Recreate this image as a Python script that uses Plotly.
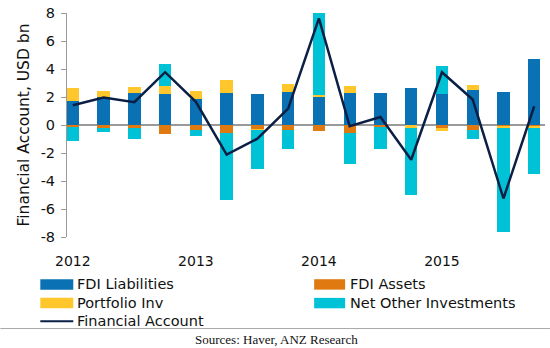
import plotly.graph_objects as go

# Quarterly financial account breakdown, USD bn
quarters = ["2012Q1", "2012Q2", "2012Q3", "2012Q4",
            "2013Q1", "2013Q2", "2013Q3", "2013Q4",
            "2014Q1", "2014Q2", "2014Q3", "2014Q4",
            "2015Q1", "2015Q2", "2015Q3", "2015Q4"]
fdi_liabilities = [1.72, 2.00, 2.29, 2.22, 1.89, 2.29, 2.25, 2.36,
                   2.06, 2.29, 2.27, 2.61, 2.22, 2.53, 2.34, 4.75]
fdi_assets = [-0.12, -0.19, -0.21, -0.62, -0.38, -0.55, -0.29, -0.38,
              -0.43, -0.57, -0.14, -0.07, -0.21, -0.38, -0.10, -0.10]
portfolio_inv = [0.89, 0.44, 0.39, 0.58, 0.57, 0.91, -0.05, 0.60,
                 0.05, 0.48, 0.00, -0.14, -0.21, 0.34, -0.10, -0.10]
net_other_inv = [-1.05, -0.33, -0.81, 1.55, -0.38, -4.80, -2.81, -1.34,
                 5.94, -2.25, -1.60, -4.78, 1.98, -0.64, -7.46, -3.31]
financial_account = [1.41, 1.96, 1.63, 3.77, 1.65, -2.12, -0.98, 1.17,
                     7.62, -0.09, 0.57, -2.48, 3.77, 1.82, -5.25, 1.34]
years = ["2012", "2013", "2014", "2015"]
y_ticks = [-8, -6, -4, -2, 0, 2, 4, 6, 8]

W, H = 550, 348
ML, MR, MT, MB = 66.7, 5.0, 13.3, 111.3
PW, PH = W - ML - MR, H - MT - MB


def px_x(px):
    return (px - ML) / PW


def px_y(py):
    return (H - MB - py) / PH


x = list(range(len(quarters)))
FONT = "DejaVu Sans"
TEXT = "#111111"
LINE_COLOR = "#0B1F45"

series = [
    ("FDI Liabilities", fdi_liabilities, "#0A72B4"),
    ("FDI Assets", fdi_assets, "#E07A10"),
    ("Portfolio Inv", portfolio_inv, "#FFC72C"),
    ("Net Other Investments", net_other_inv, "#00C2D6"),
]

fig = go.Figure()
for name, vals, col in series:
    fig.add_trace(go.Bar(x=x, y=vals, name=name, marker_color=col,
                         marker_line_width=0, width=0.4,
                         customdata=quarters,
                         hovertemplate="%{customdata}: %{y}<extra>" + name + "</extra>"))

fig.add_trace(go.Scatter(x=x, y=financial_account, mode="lines",
                         name="Financial Account",
                         line=dict(color=LINE_COLOR, width=2.5),
                         customdata=quarters,
                         hovertemplate="%{customdata}: %{y}<extra>Financial Account</extra>"))

# Two-column key under the chart: wide colour strips, text to the right
shapes = []
annotations = []
key_items = [(name, col, "bar") for name, _, col in series] + \
            [("Financial Account", LINE_COLOR, "line")]
col_x = [(40, 73, 75), (314, 345, 348)]   # strip start, strip end, text start
row_y = [284, 302.6, 320.8]
for i, (name, col, kind) in enumerate(key_items):
    x0, x1, xt = col_x[i % 2]
    yc = row_y[i // 2]
    if kind == "bar":
        shapes.append(dict(type="rect", xref="paper", yref="paper",
                           x0=px_x(x0), x1=px_x(x1), y0=px_y(yc - 5.2), y1=px_y(yc + 5.2),
                           fillcolor=col, line=dict(width=0)))
    else:
        shapes.append(dict(type="line", xref="paper", yref="paper",
                           x0=px_x(x0), x1=px_x(x1), y0=px_y(yc), y1=px_y(yc),
                           line=dict(color=col, width=2)))
    annotations.append(dict(text=name, xref="paper", yref="paper",
                            x=px_x(xt), y=px_y(yc), xanchor="left", yanchor="middle",
                            showarrow=False, font=dict(family=FONT, size=14.5, color=TEXT)))

# separator rule and source note
shapes.append(dict(type="line", xref="paper", yref="paper",
                   x0=px_x(0), x1=px_x(W), y0=px_y(328), y1=px_y(328),
                   line=dict(color="#a8a8a8", width=1)))
annotations.append(dict(text="Sources: Haver, ANZ Research", xref="paper", yref="paper",
                        x=px_x(276), y=px_y(338.5), xanchor="center", yanchor="middle",
                        showarrow=False,
                        font=dict(family="Liberation Serif", size=13, color=TEXT)))

fig.update_layout(
    width=W, height=H,
    margin=dict(l=ML, r=MR, t=MT, b=MB, pad=0),
    paper_bgcolor="white", plot_bgcolor="white",
    barmode="relative", bargap=0, showlegend=False,
    font=dict(family=FONT, size=14, color=TEXT),
    xaxis=dict(range=[-0.19, 15.35], showgrid=False, zeroline=False, showline=False,
               tickvals=[4 * i for i in range(len(years))], ticktext=years,
               ticks="", ticklabelstandoff=14, tickfont=dict(size=14, color=TEXT)),
    yaxis=dict(range=[-8, 8], tickvals=y_ticks, ticktext=[str(v) for v in y_ticks],
               showgrid=False,
               zeroline=True, zerolinecolor="#9a9a9a", zerolinewidth=1.5,
               showline=True, linecolor="#9a9a9a", linewidth=1,
               ticks="outside", ticklen=5, tickcolor="#9a9a9a",
               ticklabelstandoff=3,
               tickfont=dict(size=14.5, color=TEXT),
               title=dict(text="Financial Account, USD bn", font=dict(size=15.5, color=TEXT),
                          standoff=7)),
    shapes=shapes,
    annotations=annotations,
)

fig.write_html("out.html")
